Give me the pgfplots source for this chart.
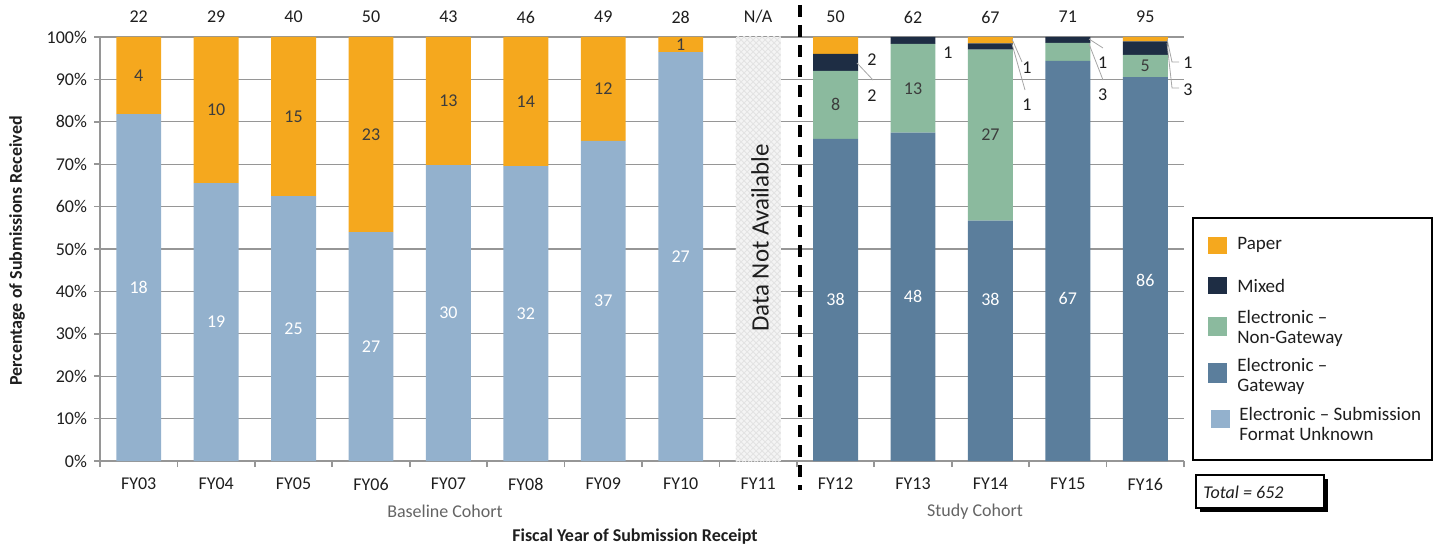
\documentclass[border=0pt]{standalone}
\usepackage{fontspec}
\setmainfont{Carlito}
\usepackage{pgfplots}
\pgfplotsset{compat=1.18}
\usetikzlibrary{patterns}

\definecolor{cPaper}{RGB}{245,168,30}
\definecolor{cMixed}{RGB}{30,45,68}
\definecolor{cNonGw}{RGB}{139,186,158}
\definecolor{cGw}{RGB}{91,126,156}
\definecolor{cUnk}{RGB}{147,177,205}
\definecolor{cAxis}{RGB}{150,150,150}
\definecolor{cTxt}{RGB}{30,30,30}
\definecolor{cLbl}{RGB}{60,60,60}
\definecolor{cCohort}{RGB}{100,100,100}

% shared geometry: 1 px of the reference = 0.5pt
\pgfplotsset{
  frame/.style={
    at={(50pt,43pt)}, anchor=south west, scale only axis,
    width=542pt, height=212pt,
    xmin=-0.5, xmax=13.5, ymin=0, ymax=100,
  },
}

\begin{document}
\begin{tikzpicture}[font=\fontsize{9}{10}\selectfont]
\useasboundingbox (0,0) rectangle (720pt,273.5pt);

\begin{axis}[frame,
  ybar stacked, bar width=0.58,
  enlargelimits=false,
  axis x line*=bottom, axis y line*=left,
  axis line style={cAxis, line width=0.8pt},
  ymajorgrids, major grid style={cAxis, line width=0.6pt},
  tick align=outside, major tick length=3pt,
  tick style={cAxis, line width=0.8pt},
  ytick={0,10,...,100},
  yticklabel={\pgfmathprintnumber{\tick}\%},
  /pgf/number format/assume math mode=true,
  xtick={-0.5,0.5,...,13.5}, xticklabels={},
  extra x ticks={0,1,...,13},
  extra x tick labels={FY03,FY04,FY05,FY06,FY07,FY08,FY09,FY10,FY11,FY12,FY13,FY14,FY15,FY16},
  extra x tick style={grid=none, tick style={draw=none}},
  tick label style={font=\fontsize{9}{10}\selectfont, text=cTxt},
  xticklabel style={yshift=-2pt},
]
% Electronic - Submission Format Unknown
\addplot[fill=cUnk, draw=none] coordinates {
  (0,81.82) (1,65.52) (2,62.50) (3,54.00) (4,69.77) (5,69.57) (6,75.51)
  (7,96.43) (8,0) (9,0) (10,0) (11,0) (12,0) (13,0)};
% Electronic - Gateway
\addplot[fill=cGw, draw=none] coordinates {
  (0,0) (1,0) (2,0) (3,0) (4,0) (5,0) (6,0)
  (7,0) (8,0) (9,76.00) (10,77.42) (11,56.72) (12,94.37) (13,90.53)};
% Electronic - Non-Gateway
\addplot[fill=cNonGw, draw=none] coordinates {
  (0,0) (1,0) (2,0) (3,0) (4,0) (5,0) (6,0)
  (7,0) (8,0) (9,16.00) (10,20.97) (11,40.30) (12,4.23) (13,5.26)};
% Mixed
\addplot[fill=cMixed, draw=none] coordinates {
  (0,0) (1,0) (2,0) (3,0) (4,0) (5,0) (6,0)
  (7,0) (8,0) (9,4.00) (10,1.61) (11,1.49) (12,1.41) (13,3.16)};
% Paper
\addplot[fill=cPaper, draw=none] coordinates {
  (0,18.18) (1,34.48) (2,37.50) (3,46.00) (4,30.23) (5,30.43) (6,24.49)
  (7,3.57) (8,0) (9,4.00) (10,0) (11,1.49) (12,0) (13,1.05)};
% Data not available (FY11)
\addplot[fill=gray!9, draw=none,
  postaction={pattern=crosshatch, pattern color=gray!22}] coordinates {
  (0,0) (1,0) (2,0) (3,0) (4,0) (5,0) (6,0)
  (7,0) (8,100) (9,0) (10,0) (11,0) (12,0) (13,0)};
\end{axis}

% value labels
\begin{axis}[frame, hide axis, clip=false,
  nodes near coords, point meta=explicit symbolic,
  nodes near coords style={anchor=center, inner sep=0pt,
    font=\fontsize{9}{10}\selectfont},
]
\addplot[draw=none, nodes near coords style={text=white}] coordinates {
  (0,40.9) [18] (1,32.8) [19] (2,31.25) [25] (3,27) [27] (4,34.9) [30]
  (5,34.8) [32] (6,37.8) [37] (7,48.2) [27]
  (9,38) [38] (10,38.7) [48] (11,38) [38] (12,38.4) [67] (13,42.7) [86]};
\addplot[draw=none, nodes near coords style={text=cLbl}] coordinates {
  (0,90.9) [4] (1,82.8) [10] (2,81.25) [15] (3,77) [23] (4,84.9) [13]
  (5,84.8) [14] (6,87.8) [12] (7,98.2) [1]
  (9,84) [8] (10,87.9) [13] (11,76.9) [27] (13,93.2) [5]};
\addplot[draw=none, nodes near coords style={text=cTxt}] coordinates {
  (9.47,94.6) [2] (9.47,86.1) [2] (10.45,96.2) [1] (11.47,92.7) [1]
  (11.47,84.0) [1] (12.45,93.9) [1] (12.45,86.3) [3] (13.55,93.9) [1]
  (13.55,87.5) [3]};
% totals above the bars
\addplot[draw=none, nodes near coords style={text=cTxt}] coordinates {
  (0,104.7) [22] (1,104.7) [29] (2,104.7) [40] (3,104.7) [50] (4,104.7) [43]
  (5,104.7) [46] (6,104.7) [49] (7,104.7) [28] (8,104.7) [N/A] (9,104.7) [50]
  (10,104.7) [62] (11,104.7) [67] (12,104.7) [71] (13,104.7) [95]};
\end{axis}

% annotations in reference pixel coordinates
\begin{scope}[x=0.5pt, y=-0.5pt, yshift=273.5pt]
  \draw[black, line width=1.6pt, dash pattern=on 6pt off 4pt] (800,5) -- (800,490);
  \node[rotate=90, text=cTxt, font=\fontsize{12.5}{14}\selectfont] at (760,238) {Data Not Available};
  % leader lines
  \begin{scope}[gray!70, line width=0.4pt]
    \draw (857,63) -- (873,80);
    \draw (1012,39) -- (1022,62);
    \draw (1012,44) -- (1025,90);
    \draw (1089,39) -- (1103,48);
    \draw (1089,44) -- (1103,80);
    \draw (1167,39) -- (1172,62) -- (1179,62);
    \draw (1167,43) -- (1172,88) -- (1179,88);
  \end{scope}
  % axis titles
  \node[rotate=90, text=cTxt, font=\bfseries\fontsize{9}{10}\selectfont] at (17,251) {Percentage of Submissions Received};
  \node[text=cTxt, font=\bfseries\fontsize{9}{10}\selectfont] at (635,537) {Fiscal Year of Submission Receipt};
  \node[text=cCohort] at (445,511) {Baseline Cohort};
  \node[text=cCohort] at (975,512) {Study Cohort};
  % legend
  \draw[black, line width=0.9pt] (1193,218) rectangle (1432,460);
  \fill[cPaper] (1208,237) rectangle (1227,254);
  \fill[cMixed] (1208,277) rectangle (1227,294);
  \fill[cNonGw] (1208,317) rectangle (1227,336);
  \fill[cGw] (1208,363) rectangle (1227,383);
  \fill[cUnk] (1211,410) rectangle (1230,428);
  \begin{scope}[every node/.style={anchor=west, inner sep=0pt, align=left, text=cTxt,
      font=\fontsize{9.5}{10}\selectfont}]
    \node at (1237,245) {Paper};
    \node at (1237,286) {Mixed};
    \node at (1237,328) {Electronic --\\Non-Gateway};
    \node at (1237,376) {Electronic --\\Gateway};
    \node at (1239,424) {Electronic -- Submission\\Format Unknown};
  \end{scope}
  % total box
  \fill[black] (1200,479) rectangle (1328,512);
  \filldraw[fill=white, draw=black, line width=0.6pt] (1196,475) rectangle (1324,508);
  \node[anchor=west, inner sep=0pt, text=cTxt, font=\itshape\fontsize{9}{10}\selectfont] at (1203,492) {Total = 652};
\end{scope}
\end{tikzpicture}
\end{document}
